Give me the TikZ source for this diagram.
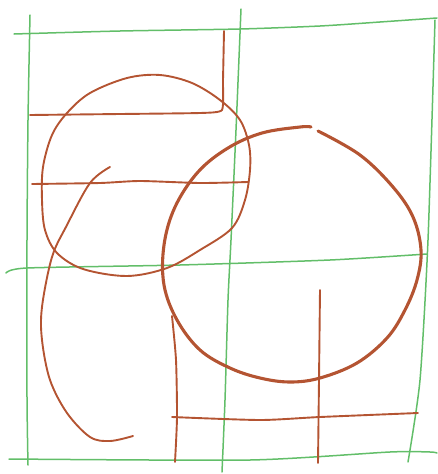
\documentclass[tikz,border=0pt]{standalone}
\definecolor{sketchgreen}{RGB}{98,190,105}
\definecolor{sketchbrown}{RGB}{180,84,50}
\begin{document}
\begin{tikzpicture}[x=1pt,y=-1pt,
  gline/.style={draw=sketchgreen,line width=1.5pt,line cap=round,line join=round},
  bline/.style={draw=sketchbrown,line width=1.9pt,line cap=round,line join=round},
  bthick/.style={draw=sketchbrown,line width=3.1pt,line cap=round,line join=round}]
\useasboundingbox (0,0) rectangle (438,474);
% green grid
\draw[gline] plot[smooth,tension=0.4] coordinates {(14,34) (120,31) (240,29) (320,26) (380,22) (437,18)};
\draw[gline] plot[smooth,tension=0.4] coordinates {(30,15) (28,120) (27,240) (27,397) (28,465)};
\draw[gline] plot[smooth,tension=0.4] coordinates {(241,9) (236,130) (231,240) (228,300) (225,400) (222,472)};
\draw[gline] plot[smooth,tension=0.4] coordinates {(435,20) (428,240) (420,380) (408,462)};
\draw[gline] plot[smooth,tension=0.4] coordinates {(6,273) (27,268) (180,265) (330,260) (427,254)};
\draw[gline] plot[smooth,tension=0.4] coordinates {(9,459) (250,460) (390,452) (430,452) (437,453)};
% brown lines
\draw[bline] plot[smooth,tension=0.3] coordinates {(224,31) (223,80) (222,110) (200,113) (120,114) (30,115)};
\draw[bline] plot[smooth,tension=0.4] coordinates {(32,184) (100,183) (140,181) (200,183) (248,182)};
\draw[bline] plot[smooth cycle,tension=0.55] coordinates {(160,75) (192,83) (220,100) (240,120) (249,145) (250,170) (245,200) (232,228) (200,250) (167,268) (127,276) (83,269) (57,253) (45,230) (42,200) (43,167) (52,135) (67,113) (90,93) (127,78)};
\draw[bline] plot[smooth,tension=0.55] coordinates {(110,167) (90,183) (67,225) (52,257) (42,307) (42,340) (50,380) (67,413) (90,437) (110,441) (133,436)};
\draw[bthick] plot[smooth,tension=0.6] coordinates {(318,131) (360,155) (393,187) (413,217) (421,250) (417,280) (405,310) (387,338) (357,363) (320,378) (290,382) (260,378) (230,368) (200,350) (177,320) (164,285) (164,245) (175,207) (198,172) (228,148) (262,133) (300,127) (311,127)};
\draw[bline] plot[smooth,tension=0.4] coordinates {(172,316) (176,360) (177,417) (175,462)};
\draw[bline] plot[smooth,tension=0.4] coordinates {(320,290) (319,380) (318,463)};
\draw[bline] plot[smooth,tension=0.4] coordinates {(172,417) (260,420) (320,417) (418,413)};
\end{tikzpicture}
\end{document}
